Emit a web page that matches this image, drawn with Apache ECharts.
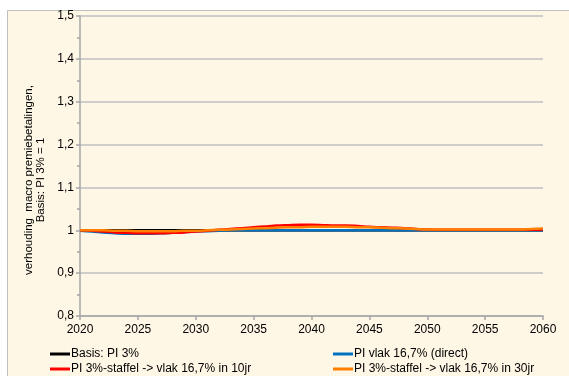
<!DOCTYPE html>
<html><head><meta charset="utf-8">
<script src="https://cdn.jsdelivr.net/npm/echarts@6/dist/echarts.min.js"></script>
<style>html,body{margin:0;padding:0;background:#fff;}#c{width:569px;height:376px;}</style>
</head><body><div id="c"></div>
<script>
const years = [];
for (let y = 2020; y <= 2060; y++) years.push(y);
const seriesNames = ['Basis: PI 3%', 'PI vlak 16,7% (direct)', 'PI 3%-staffel -> vlak 16,7% in 10jr', 'PI 3%-staffel -> vlak 16,7% in 30jr'];
const basis = [1,1,1,1,1,1,1,1,1,1,1,1,1,1,1,1,1,1,1,1,1,1,1,1,1,1,1,1,1,1,1,1,1,1,1,1,1,1,1,1,1];
const direct = [0.999,0.997,0.995,0.993,0.992,0.992,0.992,0.993,0.994,0.996,0.997,0.998,0.999,1.0,1.0,1.0,1.0,1.0,1.0,1.0,1.0,1.0,1.0,1.0,1.0,1.0,1.0,1.0,1.0,1.0,1.0,1.0,1.0,1.0,1.0,1.0,1.0,1.0,1.0,1.0,1.0];
const staffel10 = [1.0,0.999,0.997,0.995,0.994,0.993,0.993,0.993,0.994,0.995,0.997,0.999,1.001,1.003,1.005,1.007,1.009,1.011,1.012,1.013,1.013,1.012,1.011,1.011,1.010,1.008,1.007,1.006,1.005,1.003,1.002,1.001,1.001,1.001,1.001,1.001,1.001,1.001,1.001,1.001,1.002];
const staffel30 = [1.0,1.0,1.0,0.999,0.999,0.998,0.998,0.998,0.998,0.999,0.999,1.0,1.001,1.002,1.003,1.004,1.005,1.006,1.007,1.007,1.008,1.008,1.008,1.008,1.007,1.007,1.006,1.005,1.004,1.003,1.002,1.002,1.002,1.002,1.002,1.002,1.002,1.002,1.002,1.003,1.004];
const yTicks = [0.8,0.9,1.0,1.1,1.2,1.3,1.4,1.5];
const xTicks = [2020,2025,2030,2035,2040,2045,2050,2055,2060];
const yTitle = ['verhouding  macro premiebetalingen,', 'Basis: PI 3% = 1'];
const colors = ['#000000', '#0070C0', '#FF0000', '#FF8000'];
const values = [basis, direct, staffel10, staffel30];

const font = 'Liberation Sans, Arial, sans-serif';
const chart = echarts.init(document.getElementById('c'));
const legendBase = {orient: 'vertical', top: 348, height: 60, itemWidth: 20, itemHeight: 3, itemGap: 3, icon: 'rect',
  padding: 0, textStyle: {fontFamily: font, fontSize: 12, color: '#000', padding: [0, 0, 0, -4]}};
chart.setOption({
  animation: false,
  backgroundColor: 'transparent',
  graphic: [
    {type: 'rect', z: -10, shape: {x: 7.5, y: 10.5, width: 620, height: 420}, style: {fill: '#FFF7E6', stroke: '#BFBFBF', lineWidth: 1}},
    {type: 'text', x: 35, y: 180, rotation: Math.PI / 2, style: {text: yTitle.join('\n'), font: '11.5px ' + font, fill: '#000', align: 'center', verticalAlign: 'middle', lineHeight: 12}}
  ],
  grid: {left: 80, right: 26, top: 16, bottom: 60},
  legend: [
    Object.assign({}, legendBase, {data: [seriesNames[0], seriesNames[2]], left: 50}),
    Object.assign({}, legendBase, {data: [seriesNames[1], seriesNames[3]], left: 333})
  ],
  xAxis: {
    type: 'value', min: xTicks[0], max: xTicks[xTicks.length - 1], interval: 5,
    axisLine: {lineStyle: {color: '#A6A6A6', width: 1.5}},
    axisTick: {show: true, length: 4, lineStyle: {color: '#A6A6A6', width: 1.5}},
    splitLine: {show: false},
    axisLabel: {fontFamily: font, fontSize: 12, color: '#000', margin: 8, formatter: v => String(v)}
  },
  yAxis: {
    type: 'value', min: yTicks[0], max: yTicks[yTicks.length - 1], interval: 0.1,
    axisLine: {show: true, lineStyle: {color: '#A6A6A6', width: 1.5}},
    axisTick: {show: true, length: 4, lineStyle: {color: '#A6A6A6', width: 1.5}},
    minorTick: {show: true, splitNumber: 2, length: 3, lineStyle: {color: '#A6A6A6', width: 1.5}},
    splitLine: {show: true, lineStyle: {color: '#BFBFBF', width: 1.5}},
    axisLabel: {fontFamily: font, fontSize: 12, color: '#000', margin: 6,
      formatter: v => String(Math.round(v * 10) / 10).replace('.', ',')}
  },
  series: values.map((arr, i) => ({
    name: seriesNames[i], type: 'line', smooth: 0.3, showSymbol: false, symbol: 'none',
    data: arr.map((v, j) => [years[j], v]),
    lineStyle: {color: colors[i], width: 2.5}, itemStyle: {color: colors[i]}, z: 2 + i
  }))
});
</script></body></html>
